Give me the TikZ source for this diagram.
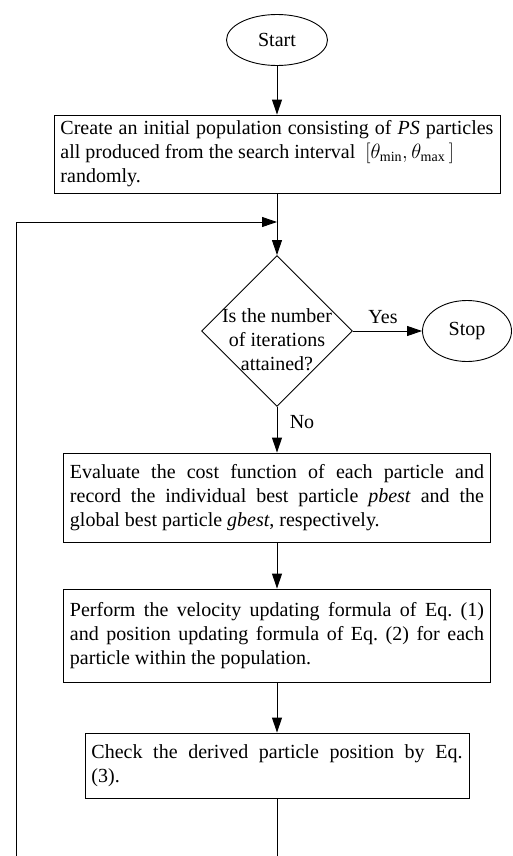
\documentclass[tikz,border=0pt]{standalone}
\usepackage{fontspec}
\setmainfont{Liberation Serif}
\usetikzlibrary{shapes.geometric,arrows.meta}
\frenchspacing
\tikzset{
  txt/.style={font=\fontsize{20bp}{24bp}\selectfont},
  proc/.style={draw, txt, line width=0.9bp, align=justify, inner xsep=6.5bp, inner ysep=0pt},
  term/.style={draw, txt, ellipse, line width=0.9bp, inner sep=0pt},
  flow/.style={line width=0.9bp, -{Triangle[length=15bp,width=10bp]}},
}
\begin{document}
\begin{tikzpicture}[x=1bp, y=-1bp]
\useasboundingbox (0,0) rectangle (513,856);
\node[term, minimum width=101bp, minimum height=51bp] (start) at (277,40) {Start};
\node[proc, text width=433bp, minimum height=78bp] (init) at (277,154)
  {Create an initial population consisting of \textit{PS} particles\linebreak
   all produced from the search interval~~$\Bigl[\theta_{\min},\theta_{\max}\,\Bigr]$\\
   randomly.};
\node[diamond, draw, line width=0.9bp, minimum width=151bp, minimum height=151bp, inner sep=0pt,
  label={[txt, align=center, yshift=-9bp]center:Is the number\\of iterations\\attained?}] (check) at (277,331) {};
\node[term, minimum width=89bp, minimum height=61bp] (stop) at (467,331) {Stop};
\node[txt] (yes) at (383,317) {Yes};
\node[txt] (no) at (302,422) {No};
\node[proc, text width=414bp, minimum height=89bp] (eval) at (277,497.5)
  {Evaluate the cost function of each particle and\linebreak
   record the individual best particle \textit{pbest} and the\linebreak
   global best particle \textit{gbest}, respectively.};
\node[proc, text width=414bp, minimum height=93bp] (update) at (277,635.5)
  {Perform the velocity updating formula of Eq. (1)\linebreak
   and position updating formula of Eq. (2) for each\linebreak
   particle within the population.};
\node[proc, text width=371bp, minimum height=65bp] (bound) at (277,765.5)
  {Check the derived particle position by Eq.\linebreak
   (3).};
\coordinate (merge) at (277,222);
\coordinate (loopstart) at (16,856);
\coordinate (loopend) at (277,856);
\draw[flow] (start) -- (init);
\draw[flow] (init) -- (check);
\draw[flow] (loopstart) |- (merge);
\draw[flow] (check) -- (stop);
\draw[flow] (check) -- (eval);
\draw[flow] (eval) -- (update);
\draw[flow] (update) -- (bound);
\draw[line width=0.9bp] (bound) -- (loopend);
\end{tikzpicture}
\end{document}
